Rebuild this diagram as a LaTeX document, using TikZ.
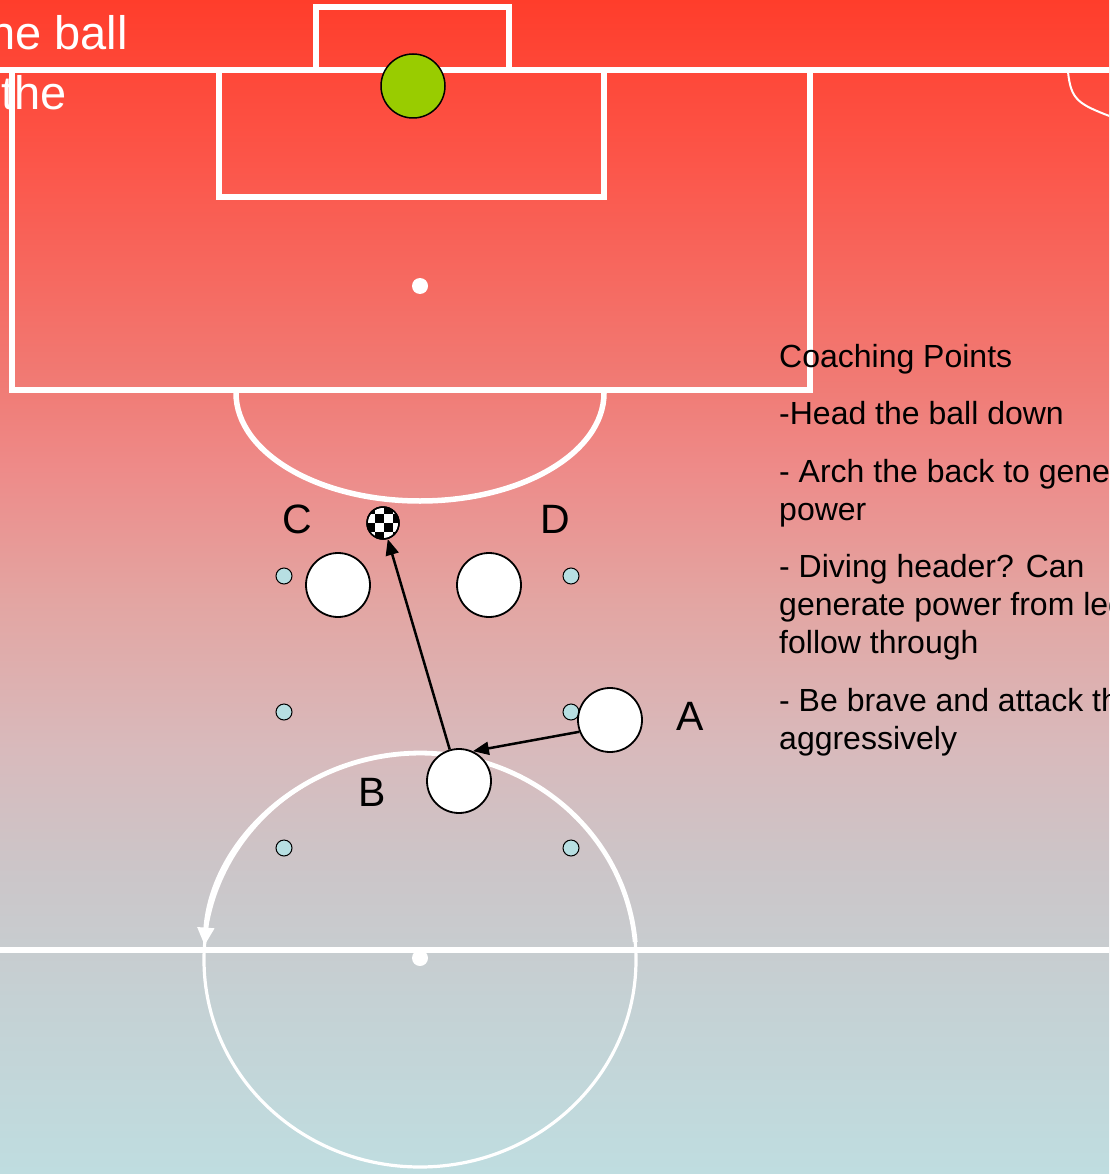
\documentclass[tikz,border=0pt]{standalone}
\usepackage{fontspec}
\setmainfont{Liberation Sans}
\usetikzlibrary{arrows.meta}
\definecolor{bgA}{RGB}{191,221,224}
\definecolor{bgB}{RGB}{197,209,212}
\definecolor{bgC}{RGB}{204,197,200}
\definecolor{bgD}{RGB}{216,186,188}
\definecolor{bgE}{RGB}{227,165,162}
\definecolor{bgF}{RGB}{238,138,136}
\definecolor{bgG}{RGB}{240,124,118}
\definecolor{bgH}{RGB}{252,86,74}
\definecolor{bgI}{RGB}{255,61,43}
\definecolor{keepergreen}{RGB}{153,204,0}
\definecolor{conecol}{RGB}{183,223,226}
\pgfdeclareverticalshading{fieldbg}{1109pt}{color(0pt)=(bgA); color(174pt)=(bgB); color(309pt)=(bgC); color(424pt)=(bgD); color(574pt)=(bgE); color(709pt)=(bgF); color(784pt)=(bgG); color(1009pt)=(bgH); color(1174pt)=(bgI)}
\begin{document}
\begin{tikzpicture}[x=1pt,y=-1pt,
  fieldline/.style={draw=white, line width=5.5pt},
  player/.style={circle, draw=black, line width=1.8pt, fill=white, minimum size=64pt, inner sep=0pt},
  cone/.style={circle, draw=black, line width=1pt, fill=conecol, minimum size=16pt, inner sep=0pt},
  ballnode/.style={circle, draw=black, line width=1.5pt, fill=white, minimum size=32pt, inner sep=0pt},
  keeper/.style={circle, draw=black, line width=1.5pt, fill=keepergreen, minimum size=64pt, inner sep=0pt},
  pass/.style={draw=black, line width=2.5pt, -{Triangle[length=16pt,width=13pt]}},
  lab/.style={anchor=base, inner sep=0pt, font=\fontsize{41}{48}\selectfont},
  coach/.style={anchor=base west, inner sep=0pt, font=\fontsize{32}{38}\selectfont},
  toptext/.style={inner sep=0pt, text=white, font=\fontsize{47}{56}\selectfont}
]
\useasboundingbox (0,0) rectangle (1109,1174);
\clip (0,0) rectangle (1109,1174);
\node[inner sep=0pt, outer sep=0pt, anchor=north west] (bg) at (0,0) {\pgfuseshading{fieldbg}};

% field markings
\draw[fieldline] (-10,70) -- (1120,70);
\draw[fieldline] (316,70) -- (316,7) -- (509,7) -- (509,70);
\draw[fieldline] (219,70) rectangle (604,197);
\draw[fieldline] (12,70) rectangle (810,390);
\fill[white] (420,286) circle[radius=8];
\draw[fieldline] (236,393) arc[start angle=180, end angle=0, x radius=184, y radius=108];
\draw[fieldline] (-10,950) -- (1120,950);
\fill[white] (420,958) circle[radius=8];
\draw[white, line width=3.2pt] (420,960) ellipse[x radius=216, y radius=207];
\draw[white, line width=4.8pt, -{Triangle[length=18pt,width=16pt]}] (635.2,942) arc[start angle=-5, end angle=-176, x radius=216, y radius=207];
\draw[white, line width=2pt] (1068,72) .. controls (1071,100) and (1078,104) .. (1112,117);

% keeper
\node[keeper] (gk) at (413,86) {};

% cones
\node[cone] (k1) at (284,576) {};
\node[cone] (k2) at (571,576) {};
\node[cone] (k3) at (284,712) {};
\node[cone] (k4) at (571,712) {};
\node[cone] (k5) at (284,848) {};
\node[cone] (k6) at (571,848) {};

% players
\node[player] (pC) at (338,585) {};
\node[player] (pD) at (489,585) {};
\node[player] (pA) at (610,720) {};
\node[player] (pB) at (459,781) {};

% ball
\node[ballnode] (ball) at (383,523) {};
\begin{scope}
  \clip (383,523) circle[radius=15.5];
  \foreach \i/\j in {-2/-2,0/-2,-1/-1,1/-1,-2/0,0/0,-1/1,1/1}
    \fill[black] ({383.5+9*\i},{522.5+9*\j}) rectangle ++(9,9);
\end{scope}
\draw[black, line width=1.5pt] (ball.center) circle[radius=16];

% passes
\draw[pass] (pA.201) -- (pB.65);
\draw[pass] (pB) -- (ball);

% labels
\node[lab] (lC) at (297,533) {C};
\node[lab] (lD) at (555,533) {D};
\node[lab] (lA) at (690,730) {A};
\node[lab] (lB) at (372,806) {B};

% top text
\node[toptext, anchor=base east] (t1) at (128,50) {the ball};
\node[toptext, anchor=base west] (t2) at (1,110) {the};

% coaching points
\node[coach] (c0) at (779,367) {Coaching Points};
\node[coach] (c1) at (779,424) {-Head the ball down};
\node[coach] (c2) at (779,482) {- Arch the back to generate};
\node[coach] (c3) at (779,520) {power};
\node[coach] (c4) at (779,577) {- Diving header? Can};
\node[coach] (c5) at (779,615) {generate power from legs};
\node[coach] (c6) at (779,653) {follow through};
\node[coach] (c7) at (779,711) {- Be brave and attack the};
\node[coach] (c8) at (779,749) {aggressively};
\end{tikzpicture}
\end{document}
